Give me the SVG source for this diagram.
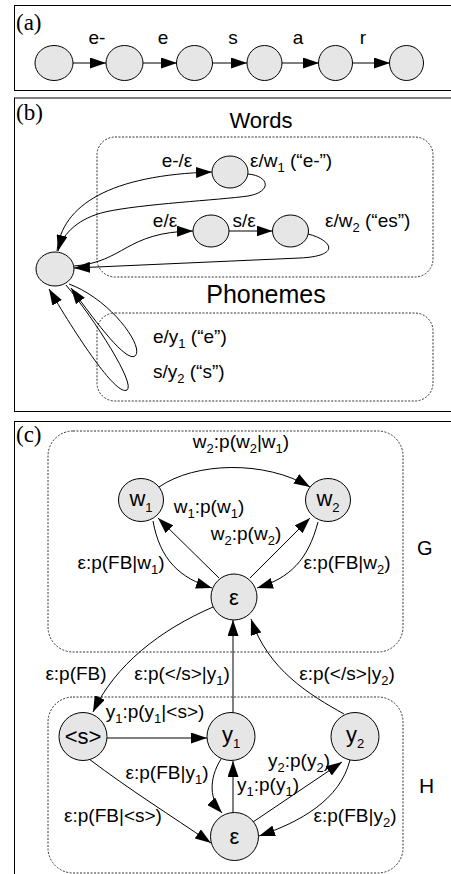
<svg xmlns="http://www.w3.org/2000/svg" width="451" height="874" viewBox="0 0 451 874">
  <style>
    text { font-family: "Liberation Sans", Arial, sans-serif; font-size: 19px; fill: #000; }
    .panel { font-family: "Liberation Serif", "Times New Roman", serif; font-size: 23px; }
    .s { font-size: 13px; }
    .nl { font-size: 22px; text-anchor: middle; }
    .m { text-anchor: middle; }
    .frame { fill: none; stroke: #000; stroke-width: 1; }
    .group { fill: none; stroke: #333; stroke-width: 1; stroke-dasharray: 2 1.5; }
    .node { fill: #e6e6e6; stroke: #000; stroke-width: 1; }
    .edge { fill: none; stroke: #000; stroke-width: 1; marker-end: url(#arrow); }
  </style>
  <defs>
    <marker id="arrow" markerUnits="userSpaceOnUse" markerWidth="16" markerHeight="11" refX="16" refY="5.5" orient="auto">
      <path d="M0,0 L16,5.5 L0,11 z" fill="#000"/>
    </marker>
  </defs>

  <!-- panel frames -->
  <rect class="frame" x="14.5" y="5.5" width="460" height="85"/>
  <rect class="frame" x="14.5" y="98" width="460" height="313.5"/>
  <rect class="frame" x="14.5" y="421.5" width="460" height="470"/>
  <text class="panel" x="16" y="30">(a)</text>
  <text class="panel" x="16" y="120">(b)</text>
  <text class="panel" x="16" y="442">(c)</text>

  <!-- (a) linear chain -->
  <g id="a-connectors">
    <line class="edge" x1="73" y1="63" x2="106" y2="63"/>
    <line class="edge" x1="143" y1="63" x2="177" y2="63"/>
    <line class="edge" x1="212" y1="63" x2="247" y2="63"/>
    <line class="edge" x1="282" y1="63" x2="319" y2="63"/>
    <line class="edge" x1="353" y1="63" x2="390" y2="63"/>
    <text class="m" x="97" y="44">e-</text>
    <text class="m" x="163" y="44">e</text>
    <text class="m" x="233" y="44">s</text>
    <text class="m" x="298" y="44">a</text>
    <text class="m" x="363" y="44">r</text>
  </g>
  <g id="a-n0"><ellipse class="node" cx="54" cy="63" rx="19" ry="17.5"/></g>
  <g id="a-n1"><ellipse class="node" cx="124.5" cy="63" rx="18.5" ry="17.5"/></g>
  <g id="a-n2"><ellipse class="node" cx="194.5" cy="63" rx="18" ry="17.5"/></g>
  <g id="a-n3"><ellipse class="node" cx="264.5" cy="63" rx="17.5" ry="17.5"/></g>
  <g id="a-n4"><ellipse class="node" cx="335.5" cy="63" rx="17" ry="17.5"/></g>
  <g id="a-n5"><ellipse class="node" cx="406.5" cy="63" rx="17" ry="17.5"/></g>

  <!-- (b) lexicon transducer -->
  <g id="b-words">
    <rect class="group" x="97" y="137" width="336" height="140" rx="18"/>
    <text class="m" x="261" y="128" style="font-size:22px">Words</text>
  </g>
  <g id="b-phonemes">
    <rect class="group" x="97" y="313" width="336" height="88" rx="18"/>
    <text class="m" x="266" y="303" style="font-size:25px">Phonemes</text>
  </g>
  <g id="b-connectors">
    <path class="edge" d="M57,251 C62,205 110,175 212,172"/>
    <path class="edge" d="M248,174 C270,176 272,192 248,196 C220,200 140,204 105,212 C80,218 63,232 58,251"/>
    <path class="edge" d="M74,266 C125,262 125,232 193,231"/>
    <line class="edge" x1="229" y1="231" x2="272.5" y2="231"/>
    <path class="edge" d="M308,234 C332,240 342,256 300,258 L74,268"/>
    <path class="edge" d="M69,284 C112,300 145,348 135,356 C126,362 98,325 71,288"/>
    <path class="edge" d="M66,285 C95,320 136,384 127,390 C117,396 82,345 49,289"/>
    <text class="m" x="177" y="167">e-/ε</text>
    <text x="250" y="167">ε/w<tspan class="s" dy="5">1</tspan><tspan dy="-5"> (“e-”)</tspan></text>
    <text class="m" x="165" y="227">e/ε</text>
    <text class="m" x="244" y="227">s/ε</text>
    <text x="325" y="227">ε/w<tspan class="s" dy="5">2</tspan><tspan dy="-5"> (“es”)</tspan></text>
    <text x="153" y="343">e/y<tspan class="s" dy="5">1</tspan><tspan dy="-5"> (“e”)</tspan></text>
    <text x="153" y="378">s/y<tspan class="s" dy="5">2</tspan><tspan dy="-5"> (“s”)</tspan></text>
  </g>
  <g id="b-start"><ellipse class="node" cx="55" cy="269" rx="19" ry="17"/></g>
  <g id="b-w1"><ellipse class="node" cx="230" cy="172" rx="18" ry="16"/></g>
  <g id="b-e"><ellipse class="node" cx="211" cy="231" rx="18" ry="16"/></g>
  <g id="b-s"><ellipse class="node" cx="290.5" cy="231" rx="18" ry="16"/></g>

  <!-- (c) grammar G and phoneme model H -->
  <g id="c-G">
    <rect class="group" x="48" y="431" width="355" height="221" rx="25"/>
    <text x="417" y="555" style="font-size:20px">G</text>
  </g>
  <g id="c-H">
    <rect class="group" x="48" y="697" width="355" height="176" rx="25"/>
    <text x="419" y="793" style="font-size:21px">H</text>
  </g>
  <g id="c-connectors">
    <path class="edge" d="M159,487 C195,462 265,460 310,487"/>
    <line class="edge" x1="219" y1="578" x2="158" y2="518"/>
    <line class="edge" x1="250" y1="578" x2="310" y2="518"/>
    <path class="edge" d="M153,521 C160,560 180,578 212,588"/>
    <path class="edge" d="M318,522 C308,560 290,578 257,588"/>
    <path class="edge" d="M213,607 C160,630 115,665 93,712"/>
    <line class="edge" x1="233" y1="713" x2="233" y2="620"/>
    <path class="edge" d="M344,714 C310,695 268,670 251,619"/>
    <line class="edge" x1="107" y1="738" x2="207" y2="738"/>
    <path class="edge" d="M221,759 C208,780 210,800 222,813"/>
    <line class="edge" x1="233" y1="813" x2="233" y2="761"/>
    <line class="edge" x1="253" y1="822" x2="342" y2="762"/>
    <path class="edge" d="M350,760 C340,800 300,822 259,836"/>
    <path class="edge" d="M89,759 C130,790 170,815 211,843"/>

    <text class="m" x="241" y="448">w<tspan class="s" dy="5">2</tspan><tspan dy="-5">:p(w</tspan><tspan class="s" dy="5">2</tspan><tspan dy="-5">|w</tspan><tspan class="s" dy="5">1</tspan><tspan dy="-5">)</tspan></text>
    <text class="m" x="209" y="513">w<tspan class="s" dy="5">1</tspan><tspan dy="-5">:p(w</tspan><tspan class="s" dy="5">1</tspan><tspan dy="-5">)</tspan></text>
    <text class="m" x="246" y="540">w<tspan class="s" dy="5">2</tspan><tspan dy="-5">:p(w</tspan><tspan class="s" dy="5">2</tspan><tspan dy="-5">)</tspan></text>
    <text class="m" x="121" y="569">ε:p(FB|w<tspan class="s" dy="5">1</tspan><tspan dy="-5">)</tspan></text>
    <text class="m" x="347" y="569">ε:p(FB|w<tspan class="s" dy="5">2</tspan><tspan dy="-5">)</tspan></text>
    <text class="m" x="76" y="680">ε:p(FB)</text>
    <text class="m" x="182" y="680">ε:p(&lt;/s&gt;|y<tspan class="s" dy="5">1</tspan><tspan dy="-5">)</tspan></text>
    <text class="m" x="347" y="680">ε:p(&lt;/s&gt;|y<tspan class="s" dy="5">2</tspan><tspan dy="-5">)</tspan></text>
    <text class="m" x="155" y="718">y<tspan class="s" dy="5">1</tspan><tspan dy="-5">:p(y</tspan><tspan class="s" dy="5">1</tspan><tspan dy="-5">|&lt;s&gt;)</tspan></text>
    <text class="m" x="167" y="779">ε:p(FB|y<tspan class="s" dy="5">1</tspan><tspan dy="-5">)</tspan></text>
    <text class="m" x="268" y="791">y<tspan class="s" dy="5">1</tspan><tspan dy="-5">:p(y</tspan><tspan class="s" dy="5">1</tspan><tspan dy="-5">)</tspan></text>
    <text class="m" x="299" y="767">y<tspan class="s" dy="5">2</tspan><tspan dy="-5">:p(y</tspan><tspan class="s" dy="5">2</tspan><tspan dy="-5">)</tspan></text>
    <text class="m" x="113" y="822">ε:p(FB|&lt;s&gt;)</text>
    <text class="m" x="355" y="822">ε:p(FB|y<tspan class="s" dy="5">2</tspan><tspan dy="-5">)</tspan></text>
  </g>
  <g id="c-w1">
    <ellipse class="node" cx="141" cy="500" rx="22.5" ry="21.5"/>
    <text class="nl" x="141" y="506">w<tspan class="s" dy="6">1</tspan></text>
  </g>
  <g id="c-w2">
    <ellipse class="node" cx="328" cy="500" rx="22.5" ry="21.5"/>
    <text class="nl" x="328" y="506">w<tspan class="s" dy="6">2</tspan></text>
  </g>
  <g id="c-epsG">
    <circle class="node" cx="234" cy="597" r="23"/>
    <text class="nl" x="234" y="605">ε</text>
  </g>
  <g id="c-s">
    <circle class="node" cx="83" cy="736.5" r="24"/>
    <text class="nl" x="83" y="744">&lt;s&gt;</text>
  </g>
  <g id="c-y1">
    <circle class="node" cx="231" cy="736.5" r="24"/>
    <text class="nl" x="231" y="742">y<tspan class="s" dy="6">1</tspan></text>
  </g>
  <g id="c-y2">
    <circle class="node" cx="355" cy="736.5" r="24"/>
    <text class="nl" x="355" y="742">y<tspan class="s" dy="6">2</tspan></text>
  </g>
  <g id="c-epsH">
    <circle class="node" cx="234.5" cy="836.5" r="24"/>
    <text class="nl" x="234.5" y="844">ε</text>
  </g>
</svg>
